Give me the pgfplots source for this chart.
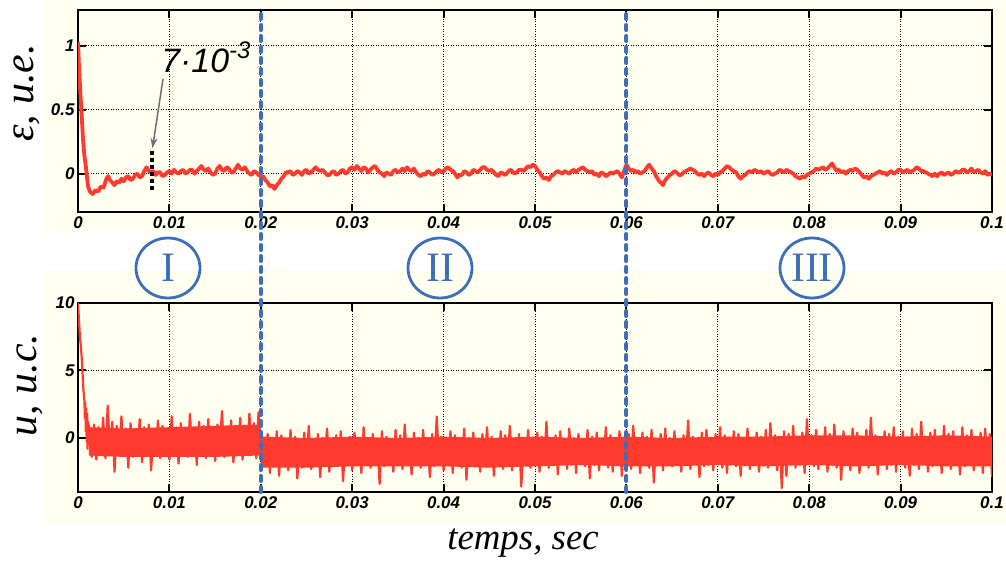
\documentclass[border=0pt]{standalone}
\usepackage{pgfplots}
\pgfplotsset{compat=1.18}
\usepackage{fontspec}
\setmainfont{Liberation Serif}
\newfontfamily\arialf{Liberation Sans}
\usetikzlibrary{arrows.meta}
\definecolor{bg}{RGB}{255,255,240}
\definecolor{sig}{RGB}{255,59,48}
\definecolor{cblue}{RGB}{62,110,185}
\definecolor{agray}{RGB}{110,110,110}
\pgfplotsset{mystyle/.style={
  scale only axis, anchor=south west,
  xmin=0, xmax=100,
  xtick={0,10,...,100},
  xticklabels={0,0.01,0.02,0.03,0.04,0.05,0.06,0.07,0.08,0.09,0.1},
  grid=major,
  grid style={black, line width=0.7bp, dash pattern=on 0.9bp off 1.6bp},
  axis line style={black, line width=2.8bp},
  tick style={black, line width=2bp},
  major tick length=8bp,
  tick align=inside,
  ticklabel style={font=\arialf\bfseries\itshape\fontsize{17}{17}\selectfont},
  xticklabel style={yshift=-1bp},
}}
\begin{document}
\begin{tikzpicture}
\useasboundingbox (0,0) rectangle (1006bp,563bp);
\fill[bg] (43bp,330bp) rectangle (1006bp,563bp);
\fill[bg] (45bp,40bp) rectangle (1006bp,293bp);

\begin{axis}[mystyle, at={(78bp,351bp)}, width=914bp, height=202bp,
  ymin=-0.3, ymax=1.28, ytick={0,0.5,1}, yticklabels={0,0.5,1}]
\addplot[sig, line width=3.8bp, line join=round] coordinates {
(0,1.03)(0.1,0.85)(0.2,0.71)(0.3,0.58)(0.4,0.46)(0.55,0.27)(0.7,0.14)(0.87,0.05)(1.0,-0.04)(1.1,-0.1)(1.3,-0.14)(1.6,-0.16)(1.9,-0.13)(2.2,-0.14)(2.5,-0.1)(2.8,-0.11)(3.1,-0.04)(3.3,-0.02)
(3.5,-0.05)(3.75,-0.07)(4.0,-0.09)(4.25,-0.06)(4.5,-0.07)(4.75,-0.04)(5.0,-0.06)(5.25,-0.03)(5.5,-0.02)(5.75,-0.05)(6.0,-0.04)(6.25,-0.01)(6.5,0.00)(6.75,-0.03)(7.0,-0.02)(7.25,0.02)(7.5,0.05)(7.75,0.02)(8.0,0.01)
(8.25,0.02)(8.5,-0.01)(8.75,0.01)(9.0,0.01)(9.25,-0.02)(9.5,-0.01)(9.75,0.01)(10.0,0.02)(10.25,0.00)(10.5,0.03)(10.75,0.01)(11.0,0.00)(11.25,0.02)(11.5,0.03)(11.75,0.00)(12.0,0.01)(12.25,0.03)(12.5,0.03)(12.75,0.00)(13.0,0.02)
(13.25,0.04)(13.5,0.06)(13.75,0.03)(14.0,0.02)(14.25,0.04)(14.5,0.01)(14.75,-0.01)(15.0,0.00)(15.25,0.04)(15.5,0.06)(15.75,0.03)(16.0,0.02)(16.25,0.05)(16.5,0.04)(16.75,0.01)(17.0,0.01)(17.25,0.04)(17.5,0.07)(17.75,0.04)(18.0,0.03)
(18.25,0.05)(18.5,0.02)(18.75,0.00)(19.0,-0.01)(19.25,0.02)(19.5,0.01)(19.75,-0.01)(20.0,-0.02)(20.25,-0.02)(20.5,-0.05)(20.75,-0.07)(21.0,-0.10)(21.25,-0.09)(21.5,-0.12)(21.75,-0.09)(22.0,-0.07)(22.25,-0.04)(22.5,-0.02)(22.75,0.01)(23.0,0.01)
(23.25,0.02)(23.5,-0.01)(23.75,0.00)(24.0,0.02)(24.25,0.01)(24.5,-0.01)(24.75,0.02)(25.0,0.03)(25.25,0.00)(25.5,0.01)(25.75,0.03)(26.0,0.05)(26.25,0.03)(26.5,0.02)(26.75,0.03)(27.0,0.01)(27.25,-0.01)(27.5,-0.01)(27.75,0.01)(28.0,0.02)
(28.25,-0.01)(28.5,0.00)(28.75,0.02)(29.0,0.03)(29.25,0.00)(29.5,0.01)(29.75,0.04)(30.0,0.05)(30.25,0.03)(30.5,0.06)(30.75,0.04)(31.0,0.02)(31.25,0.05)(31.5,0.04)(31.75,0.01)(32.0,0.03)(32.25,0.05)(32.5,0.06)(32.75,0.03)(33.0,0.01)
(33.25,0.00)(33.5,-0.02)(33.75,0.01)(34.0,0.00)(34.25,-0.01)(34.5,0.02)(34.75,0.03)(35.0,0.01)(35.25,0.02)(35.5,0.04)(35.75,0.02)(36.0,0.05)(36.25,0.03)(36.5,0.02)(36.75,0.04)(37.0,0.01)(37.25,-0.01)(37.5,-0.02)(37.75,0.00)(38.0,-0.01)
(38.25,0.02)(38.5,0.01)(38.75,-0.01)(39.0,0.00)(39.25,0.02)(39.5,0.03)(39.75,0.01)(40.0,0.02)(40.25,0.04)(40.5,0.05)(40.75,0.03)(41.0,0.02)(41.25,0.00)(41.5,-0.03)(41.75,-0.01)(42.0,-0.01)(42.25,0.02)(42.5,0.01)(42.75,-0.01)(43.0,0.00)
(43.25,0.03)(43.5,0.02)(43.75,0.01)(44.0,0.03)(44.25,0.05)(44.5,0.05)(44.75,0.03)(45.0,0.02)(45.25,0.03)(45.5,0.01)(45.75,-0.01)(46.0,-0.02)(46.25,0.01)(46.5,0.00)(46.75,-0.01)(47.0,0.01)(47.25,0.03)(47.5,0.02)(47.75,0.00)(48.0,0.01)
(48.25,0.03)(48.5,0.03)(48.75,0.02)(49.0,0.04)(49.25,0.06)(49.5,0.05)(49.75,0.07)(50.0,0.06)(50.25,0.03)(50.5,0.01)(50.75,-0.02)(51.0,-0.04)(51.25,-0.03)(51.5,-0.05)(51.75,-0.02)(52.0,-0.01)(52.25,0.01)(52.5,0.02)(52.75,0.01)(53.0,0.00)
(53.25,0.02)(53.5,0.01)(53.75,0.00)(54.0,0.02)(54.25,0.03)(54.5,0.01)(54.75,0.03)(55.0,0.04)(55.25,0.05)(55.5,0.03)(55.75,0.02)(56.0,0.01)(56.25,0.02)(56.5,-0.01)(56.75,0.00)(57.0,-0.02)(57.25,0.01)(57.5,0.00)(57.75,-0.02)(58.0,-0.01)
(58.25,0.01)(58.5,0.00)(58.75,0.01)(59.0,0.02)(59.25,0.00)(59.5,-0.03)(59.75,0.02)(60.0,0.07)(60.25,0.04)(60.5,0.02)(60.75,0.03)(61.0,0.01)(61.25,0.02)(61.5,0.00)(61.75,0.01)(62.0,0.02)(62.25,0.05)(62.5,0.07)(62.75,0.04)(63.0,0.02)
(63.25,-0.02)(63.5,-0.05)(63.75,-0.07)(64.0,-0.09)(64.25,-0.05)(64.5,-0.03)(64.75,-0.01)(65.0,0.00)(65.25,0.02)(65.5,0.01)(65.75,-0.01)(66.0,-0.01)(66.25,0.01)(66.5,0.02)(66.75,0.03)(67.0,0.04)(67.25,0.03)(67.5,0.02)(67.75,0.00)(68.0,-0.01)
(68.25,0.00)(68.5,-0.02)(68.75,0.00)(69.0,0.01)(69.25,-0.01)(69.5,-0.02)(69.75,0.00)(70.0,-0.01)(70.25,0.01)(70.5,0.02)(70.75,0.04)(71.0,0.06)(71.25,0.05)(71.5,0.03)(71.75,0.02)(72.0,0.01)(72.25,-0.02)(72.5,-0.04)(72.75,-0.02)(73.0,-0.01)
(73.25,0.01)(73.5,0.02)(73.75,0.01)(74.0,0.03)(74.25,0.02)(74.5,0.01)(74.75,0.02)(75.0,0.00)(75.25,0.01)(75.5,0.02)(75.75,0.00)(76.0,-0.01)(76.25,0.00)(76.5,0.01)(76.75,0.03)(77.0,0.02)(77.25,0.01)(77.5,0.03)(77.75,0.02)(78.0,0.01)
(78.25,0.00)(78.5,-0.02)(78.75,-0.03)(79.0,-0.04)(79.25,-0.02)(79.5,-0.03)(79.75,-0.01)(80.0,0.00)(80.25,0.01)(80.5,0.02)(80.75,0.04)(81.0,0.03)(81.25,0.04)(81.5,0.05)(81.75,0.03)(82.0,0.04)(82.25,0.06)(82.5,0.08)(82.75,0.05)(83.0,0.02)
(83.25,0.03)(83.5,0.01)(83.75,0.02)(84.0,0.00)(84.25,0.02)(84.5,0.03)(84.75,0.02)(85.0,0.04)(85.25,0.03)(85.5,0.01)(85.75,-0.01)(86.0,-0.03)(86.25,-0.02)(86.5,-0.04)(86.75,-0.02)(87.0,-0.01)(87.25,0.00)(87.5,0.01)(87.75,0.02)(88.0,0.00)
(88.25,0.01)(88.5,-0.01)(88.75,0.01)(89.0,0.02)(89.25,0.00)(89.5,0.01)(89.75,0.03)(90.0,0.03)(90.25,0.01)(90.5,0.02)(90.75,0.03)(91.0,0.01)(91.25,0.02)(91.5,0.03)(91.75,0.05)(92.0,0.04)(92.25,0.02)(92.5,0.02)(92.75,0.01)(93.0,0.00)
(93.25,-0.01)(93.5,-0.02)(93.75,0.00)(94.0,-0.02)(94.25,0.00)(94.5,0.01)(94.75,-0.01)(95.0,0.00)(95.25,0.01)(95.5,-0.01)(95.75,0.00)(96.0,0.02)(96.25,0.01)(96.5,0.01)(96.75,0.03)(97.0,0.03)(97.25,0.01)(97.5,0.02)(97.75,0.04)(98.0,0.01)
(98.25,0.02)(98.5,0.03)(98.75,0.01)(99.0,0.00)(99.25,0.02)(99.5,-0.01)(99.75,0.00)(100.0,-0.01)
};
\coordinate (T20) at (axis cs:20,1.28);
\coordinate (T60) at (axis cs:60,1.28);
\node[anchor=base west, inner sep=0, font=\arialf\itshape\fontsize{34}{34}\selectfont] at (axis cs:9.1,0.79) {7·10\raisebox{0.42em}{\fontsize{24}{24}\selectfont -3}};
\draw[agray, line width=1.5bp, -{Stealth[length=10bp,width=7bp]}] (axis cs:9.3,0.74) -- (axis cs:8.15,0.2);
\draw[black, line width=3.2bp, dash pattern=on 4bp off 3bp] (axis cs:8.1,0.18) -- (axis cs:8.1,-0.14);
\end{axis}

\begin{axis}[mystyle, at={(78bp,71bp)}, width=914bp, height=189bp,
  ymin=-4, ymax=10, ytick={0,5,10}, yticklabels={0,5,10}]
% dense core of the noise band (envelope)
\addplot[fill=sig, draw=none] coordinates {
(1.2,0.8)(5,0.7)(10,0.8)(15,0.9)(19.8,1.0)(20.2,0.1)(25,0.0)(30,0.1)(35,0.0)(40,0.1)(45,0.0)(50,0.1)(55,0.0)(60,0.1)(65,0.0)(70,0.1)(75,0.1)(80,0.2)(85,0.2)(90,0.1)(95,0.2)(100,0.1)
(100,-2.1)(95,-2.1)(90,-2.0)(85,-2.1)(80,-2.0)(75,-2.1)(70,-2.0)(65,-2.1)(60,-2.1)(55,-2.0)(50,-2.1)(45,-2.2)(40,-2.1)(35,-2.1)(30,-2.1)(25,-2.2)(20.2,-2.2)(19.8,-1.3)(15,-1.4)(10,-1.4)(5,-1.4)(1.2,-1.3)
} -- cycle;
\addplot[sig, line width=2.2bp, line join=round] coordinates {
(0,10)(0.1,8.8)(0.2,7.6)(0.3,6.9)(0.4,6.0)(0.5,4.8)(0.6,3.5)(0.7,2.8)(0.75,1.5)(0.8,2.6)(0.85,0.5)(0.9,2.2)(0.95,-0.3)(1.0,1.8)(1.05,-0.8)(1.1,1.2)
(1.25,0.6)(1.5,-1.4)(1.75,1.0)(2,-1.6)(2.25,0.8)(2.5,-1.2)(2.75,1.5)(3,-1.5)(3.25,2.4)(3.5,-1.1)
(3.75,1.2)(4,-2.5)(4.25,0.9)(4.5,-1.3)(4.75,1.6)(5,-1.0)(5.25,0.7)(5.5,-2.2)(5.75,1.1)(6,-1.4)
(6.25,0.5)(6.5,-1.2)(6.75,1.4)(7,-1.8)(7.25,0.8)(7.5,-1.0)(7.75,1.0)(8,-2.4)(8.25,0.6)(8.5,-1.3)
(8.75,1.3)(9,-1.5)(9.25,0.9)(9.5,-1.1)(9.75,0.4)(10,-1.6)(10.25,1.6)(10.5,-1.2)(10.75,0.8)(11,-1.9)
(11.25,1.1)(11.5,-1.0)(11.75,0.7)(12,-1.4)(12.25,1.8)(12.5,-1.3)(12.75,0.5)(13,-2.0)(13.25,1.2)(13.5,-1.1)
(13.75,0.9)(14,-1.5)(14.25,1.4)(14.5,-1.2)(14.75,0.6)(15,-1.7)(15.25,1.0)(15.5,-1.0)(15.75,2.0)(16,-1.4)
(16.25,0.8)(16.5,-1.3)(16.75,1.3)(17,-1.8)(17.25,0.7)(17.5,-1.1)(17.75,1.5)(18,-1.6)(18.25,0.9)(18.5,-1.2)
(18.75,1.8)(19,-1.0)(19.25,1.1)(19.5,-1.5)(19.75,1.9)(20,-0.8)
(20.25,-0.2)(20.5,-2.1)(20.75,0.3)(21,-2.6)(21.25,-0.1)(21.5,-1.9)(21.75,0.5)(22,-2.8)(22.25,0.2)(22.5,-2.0)(22.75,-0.3)(23,-2.4)(23.25,0.6)(23.5,-1.8)(23.75,0.1)(24,-3.0)(24.25,-0.2)(24.5,-2.2)(24.75,0.4)(25,-1.7)
(25.25,0.9)(25.5,-2.3)(25.75,-0.1)(26,-2.0)(26.25,0.3)(26.5,-2.9)(26.75,0.0)(27,-1.6)(27.25,0.7)(27.5,-2.5)(27.75,-0.3)(28,-2.1)(28.25,0.2)(28.5,-1.9)(28.75,0.5)(29,-3.2)(29.25,-0.2)(29.5,-2.0)(29.75,0.1)(30,-2.4)
(30.25,0.4)(30.5,-1.8)(30.75,-0.4)(31,-2.6)(31.25,0.8)(31.5,-2.0)(31.75,0.0)(32,-2.2)(32.25,0.3)(32.5,-1.7)(32.75,-0.2)(33,-3.4)(33.25,0.5)(33.5,-2.1)(33.75,0.1)(34,-1.9)(34.25,-0.1)(34.5,-2.5)(34.75,0.6)(35,-2.0)
(35.25,0.2)(35.5,-2.3)(35.75,1.0)(36,-1.8)(36.25,-0.3)(36.5,-2.7)(36.75,0.4)(37,-2.0)(37.25,0.0)(37.5,-2.2)(37.75,0.6)(38,-1.6)(38.25,-0.2)(38.5,-2.9)(38.75,0.3)(39,-2.1)(39.25,1.6)(39.5,-1.9)(39.75,0.1)(40,-2.4)
(40.25,-0.1)(40.5,-2.0)(40.75,0.5)(41,-2.6)(41.25,0.2)(41.5,-1.8)(41.75,-0.3)(42,-2.2)(42.25,0.7)(42.5,-3.1)(42.75,0.0)(43,-2.0)(43.25,0.4)(43.5,-1.7)(43.75,-0.2)(44,-2.5)(44.25,0.3)(44.5,-2.1)(44.75,0.8)(45,-1.9)
(45.25,0.1)(45.5,-2.8)(45.75,-0.4)(46,-2.0)(46.25,0.5)(46.5,-2.3)(46.75,0.2)(47,-1.6)(47.25,0.9)(47.5,-2.4)(47.75,-0.1)(48,-2.1)(48.25,0.3)(48.5,-3.6)(48.75,0.0)(49,-1.9)(49.25,0.6)(49.5,-2.2)(49.75,-0.2)(50,-2.0)
(50.25,0.4)(50.5,-2.5)(50.75,0.1)(51,-1.8)(51.25,1.2)(51.5,-2.2)(51.75,-0.3)(52,-2.0)(52.25,0.2)(52.5,-2.7)(52.75,0.5)(53,-1.9)(53.25,-0.1)(53.5,-2.3)(53.75,0.7)(54,-2.0)(54.25,0.0)(54.5,-2.6)(54.75,0.3)(55,-1.7)
(55.25,-0.2)(55.5,-2.1)(55.75,0.6)(56,-3.0)(56.25,0.1)(56.5,-2.0)(56.75,0.4)(57,-2.4)(57.25,-0.3)(57.5,-1.8)(57.75,0.8)(58,-2.2)(58.25,0.2)(58.5,-2.5)(58.75,0.0)(59,-1.9)(59.25,0.5)(59.5,-2.8)(59.75,-0.1)(60,-2.0)
(60.25,0.3)(60.5,-2.3)(60.75,0.9)(61,-1.7)(61.25,-0.2)(61.5,-2.6)(61.75,0.4)(62,-2.0)(62.25,0.1)(62.5,-2.2)(62.75,0.6)(63,-3.3)(63.25,-0.1)(63.5,-1.9)(63.75,0.3)(64,-2.4)(64.25,0.7)(64.5,-2.0)(64.75,0.0)(65,-2.1)
(65.25,0.5)(65.5,-1.8)(65.75,-0.3)(66,-2.5)(66.25,0.2)(66.5,-2.0)(66.75,1.3)(67,-2.3)(67.25,0.1)(67.5,-1.7)(67.75,-0.2)(68,-2.9)(68.25,0.4)(68.5,-2.1)(68.75,0.6)(69,-2.0)(69.25,0.0)(69.5,-2.4)(69.75,0.3)(70,-1.9)
(70.25,0.8)(70.5,-2.2)(70.75,0.2)(71,-2.6)(71.25,-0.1)(71.5,-1.8)(71.75,0.5)(72,-2.1)(72.25,0.3)(72.5,-2.8)(72.75,0.0)(73,-2.0)(73.25,0.7)(73.5,-2.3)(73.75,-0.2)(74,-1.9)(74.25,0.4)(74.5,-2.5)(74.75,0.1)(75,-2.0)
(75.25,0.6)(75.5,-2.2)(75.75,1.1)(76,-1.7)(76.25,0.2)(76.5,-2.4)(76.75,-0.1)(77,-3.7)(77.25,0.5)(77.5,-2.8)(77.75,0.3)(78,-1.9)(78.25,0.9)(78.5,-2.2)(78.75,0.0)(79,-2.0)(79.25,0.4)(79.5,-2.6)(79.75,1.4)(80,-1.8)
(80.25,0.2)(80.5,-2.1)(80.75,0.6)(81,-2.3)(81.25,-0.1)(81.5,-1.9)(81.75,0.8)(82,-2.5)(82.25,0.3)(82.5,-2.0)(82.75,1.0)(83,-2.2)(83.25,0.1)(83.5,-3.1)(83.75,0.5)(84,-1.8)(84.25,-0.2)(84.5,-2.4)(84.75,0.7)(85,-2.0)
(85.25,0.4)(85.5,-2.6)(85.75,0.0)(86,-1.9)(86.25,0.6)(86.5,-2.2)(86.75,1.5)(87,-2.0)(87.25,0.2)(87.5,-2.7)(87.75,-0.1)(88,-1.8)(88.25,0.5)(88.5,-2.3)(88.75,0.3)(89,-2.0)(89.25,0.8)(89.5,-2.5)(89.75,0.1)(90,-1.9)
(90.25,0.5)(90.5,-2.2)(90.75,-0.2)(91,-2.8)(91.25,0.7)(91.5,-2.0)(91.75,0.3)(92,-2.3)(92.25,1.2)(92.5,-1.8)(92.75,0.0)(93,-2.5)(93.25,0.4)(93.5,-2.1)(93.75,0.6)(94,-2.0)(94.25,-0.1)(94.5,-2.6)(94.75,0.9)(95,-1.9)
(95.25,0.3)(95.5,-2.3)(95.75,0.5)(96,-2.0)(96.25,0.1)(96.5,-2.7)(96.75,0.8)(97,-2.1)(97.25,0.2)(97.5,-1.9)(97.75,0.6)(98,-2.4)(98.25,-0.1)(98.5,-2.0)(98.75,0.4)(99,-2.6)(99.25,0.7)(99.5,-1.8)(99.75,0.3)(100,-2.9)
};
\coordinate (B20) at (axis cs:20,-4);
\coordinate (B60) at (axis cs:60,-4);
\end{axis}

% region dividers
\draw[cblue, line width=4bp, line cap=round, dash pattern=on 5bp off 6bp] (B20) -- (T20);
\draw[cblue, line width=4bp, line cap=round, dash pattern=on 5bp off 6bp] (B60) -- (T60);

% region markers
\foreach \cx/\lab in {168/I, 440/II, 812/III}{
  \draw[cblue, line width=2.8bp] (\cx bp,295bp) ellipse [x radius=32bp, y radius=30bp];
  \node[cblue, font=\fontsize{42}{42}\selectfont] at (\cx bp,295bp) {\lab};
}

% axis titles
\node[rotate=90, inner sep=0pt, font=\itshape\fontsize{42}{42}\selectfont] at (27bp,470bp) {ε, u.e.};
\node[rotate=90, inner sep=0pt, font=\itshape\fontsize{42}{42}\selectfont] at (30bp,178bp) {u, u.c.};
\node[font=\itshape\fontsize{37}{37}\selectfont] at (523bp,20bp) {temps, sec};
\end{tikzpicture}
\end{document}
